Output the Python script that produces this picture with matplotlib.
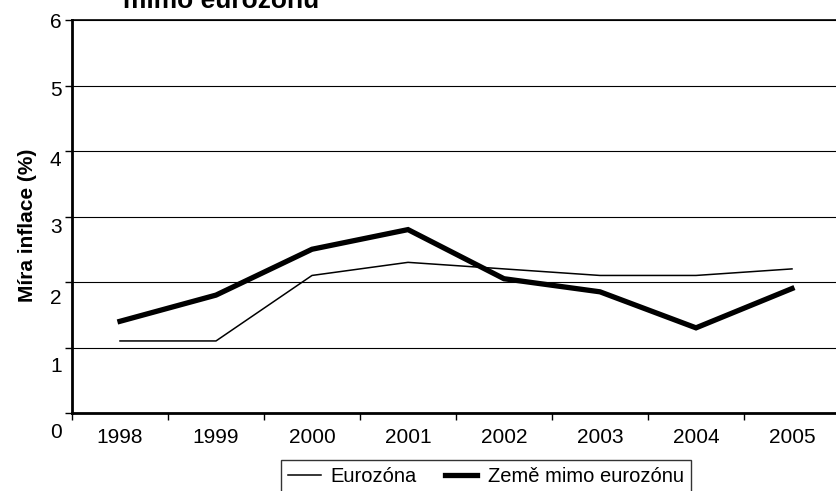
import matplotlib
matplotlib.use("Agg")
import matplotlib.pyplot as plt
import matplotlib.transforms as mtransforms

plt.rcParams['font.family'] = ['Liberation Sans', 'DejaVu Sans']

years = ['1998', '1999', '2000', '2001', '2002', '2003', '2004', '2005']
eurozona = [1.1, 1.1, 2.1, 2.3, 2.2, 2.1, 2.1, 2.2]
mimo = [1.4, 1.8, 2.5, 2.8, 2.05, 1.85, 1.3, 1.9]
y_ticks = [0, 1, 2, 3, 4, 5, 6]
# the scanned labels drift downwards a little (pixels)
y_label_drift = [17, 17, 15, 9, 7, 3, 0]

fig = plt.figure(figsize=(8.36, 4.91), dpi=100)
ax = fig.add_axes([72 / 836, 1 - 413 / 491, (840 - 72) / 836, (413 - 20) / 491])

x = list(range(len(years)))
ax.plot(x, eurozona, color='black', lw=1.1, label='Eurozóna')
ax.plot(x, mimo, color='black', lw=3.8, label='Země mimo eurozónu',
        solid_joinstyle='miter')

ax.set_xlim(-0.5, len(years) - 0.5)
ax.set_ylim(0, 6)

ax.set_yticks(y_ticks)
ax.set_yticklabels([str(v) for v in y_ticks])
ax.tick_params(axis='y', direction='out', length=5, width=1, pad=2.5,
               labelsize=15, colors='black')
for lab, d in zip(ax.get_yticklabels(), y_label_drift):
    lab.set_transform(lab.get_transform() +
                      mtransforms.ScaledTranslation(0, -d / 100, fig.dpi_scale_trans))

ax.set_xticks(x)
ax.set_xticklabels(years)
ax.set_xticks([i - 0.5 for i in range(len(years) + 1)], minor=True)
ax.tick_params(axis='x', which='major', length=0, pad=11, labelsize=15)
ax.tick_params(axis='x', which='minor', direction='out', length=5, width=1)

ax.yaxis.grid(True, color='black', lw=0.8)
ax.set_axisbelow(True)
for s in ['left', 'bottom']:
    ax.spines[s].set_linewidth(2)
ax.spines['top'].set_linewidth(1.2)
ax.spines['right'].set_visible(False)

fig.text(28 / 836, 1 - 225 / 491, 'Míra inflace (%)', rotation=90,
         ha='center', va='center', fontsize=15, fontweight='bold')
fig.text(221 / 836, 1 - 8 / 491, 'mimo eurozónu', ha='center', va='baseline',
         fontsize=19, fontweight='bold')

leg = fig.legend(loc='upper center', bbox_to_anchor=(486 / 836, 1 - 460 / 491),
                 ncol=2, fontsize=14.5, frameon=True, fancybox=False,
                 edgecolor='black', handlelength=1.6, handletextpad=0.5,
                 columnspacing=1.4, borderpad=0.35, borderaxespad=0)
leg.get_frame().set_linewidth(1)

fig.savefig('out.png', dpi=100)
